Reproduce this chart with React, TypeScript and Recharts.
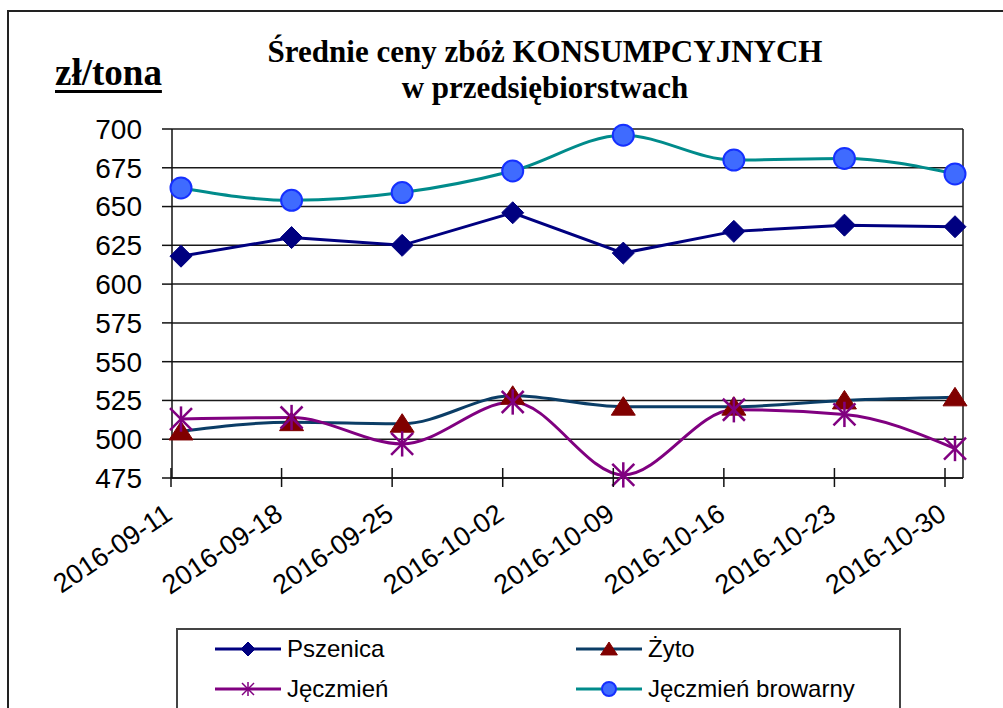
import React from 'react';
import { LineChart, Line, XAxis, YAxis, CartesianGrid, Legend } from 'recharts';

const categories = ['2016-09-11', '2016-09-18', '2016-09-25', '2016-10-02', '2016-10-09', '2016-10-16', '2016-10-23', '2016-10-30'];
const pszenica = [618, 630, 625, 646, 620, 634, 638, 637];
const zyto = [505, 511, 510, 528, 521, 521, 525, 527];
const jeczmien = [513, 514, 497, 524, 477, 519, 516, 494];
const browarny = [662, 654, 659, 673, 696, 680, 681, 671];
const yTicks = [475, 500, 525, 550, 575, 600, 625, 650, 675, 700];

const seriesNames = ['Pszenica', 'Żyto', 'Jęczmień', 'Jęczmień browarny'];

const data = categories.map((c, i) => ({
  date: c,
  pszenica: pszenica[i],
  zyto: zyto[i],
  jeczmien: jeczmien[i],
  browarny: browarny[i],
}));

const NAVY = '#000080';
const ZYTO_LINE = '#0b3d66';
const ZYTO_MARK = '#800000';
const PURPLE = '#800080';
const TEAL = '#008b8b';
const BLUE_FILL = '#3f6bff';
const BLUE_STROKE = '#1530ff';

const Diamond = ({ cx, cy, r }: any) => (
  <polygon points={`${cx},${cy - r} ${cx + r},${cy} ${cx},${cy + r} ${cx - r},${cy}`} fill={NAVY} stroke={NAVY} strokeWidth={1} />
);
const Tri = ({ cx, cy, r }: any) => (
  <polygon points={`${cx},${cy - r} ${cx + r * 1.2},${cy + r * 0.85} ${cx - r * 1.2},${cy + r * 0.85}`} fill={ZYTO_MARK} stroke={ZYTO_MARK} strokeWidth={1} />
);
const Star = ({ cx, cy, r, w }: any) => (
  <g stroke={PURPLE} strokeWidth={w} fill="none">
    <line x1={cx} y1={cy - r * 1.15} x2={cx} y2={cy + r * 1.15} />
    <line x1={cx - r} y1={cy - r} x2={cx + r} y2={cy + r} />
    <line x1={cx - r} y1={cy + r} x2={cx + r} y2={cy - r} />
  </g>
);
const Circ = ({ cx, cy, r }: any) => (
  <circle cx={cx} cy={cy} r={r} fill={BLUE_FILL} stroke={BLUE_STROKE} strokeWidth={2} />
);

const XTick = (props: any) => {
  const { x, y, payload } = props;
  const tx = x - 10;
  const lx = tx + 3;
  const ly = y + 40;
  return (
    <g>
      <line x1={tx} y1={y - 10} x2={tx} y2={y + 9} stroke="#111" strokeWidth={1.5} />
      <text
        x={lx}
        y={ly}
        textAnchor="end"
        transform={`rotate(-34, ${lx}, ${ly})`}
        fontFamily="'Liberation Sans', Arial, sans-serif"
        fontSize={27}
        fill="#000"
      >
        {payload.value}
      </text>
    </g>
  );
};

const legendIcons = [
  (cx: number, cy: number) => <Diamond cx={cx} cy={cy} r={7} />,
  (cx: number, cy: number) => <Tri cx={cx} cy={cy} r={7} />,
  (cx: number, cy: number) => <Star cx={cx} cy={cy} r={6} w={1.5} />,
  (cx: number, cy: number) => <Circ cx={cx} cy={cy} r={7} />,
];
const legendLineColors = [NAVY, ZYTO_LINE, PURPLE, TEAL];

const LegendContent = () => (
  <div style={{ position: 'relative', width: 725, height: 82, border: '2px solid #444', boxSizing: 'border-box', background: '#fff' }}>
    {seriesNames.map((name, i) => {
      const col = i % 2;
      const row = Math.floor(i / 2);
      const left = col === 0 ? 35 : 396;
      const top = row === 0 ? 1 : 41;
      return (
        <div key={name} style={{ position: 'absolute', left, top, height: 36, display: 'flex', alignItems: 'center' }}>
          <svg width={70} height={36} style={{ display: 'block' }}>
            <line x1={2} y1={18} x2={68} y2={18} stroke={legendLineColors[i]} strokeWidth={3} />
            {legendIcons[i](35, 18)}
          </svg>
          <span style={{ marginLeft: 4, fontFamily: "'Liberation Sans', Arial, sans-serif", fontSize: 24, color: '#000' }}>{name}</span>
        </div>
      );
    })}
  </div>
);

export default function App() {
  return (
    <div style={{ position: 'absolute', left: 0, top: 0, width: 1003, height: 708, background: '#fff', overflow: 'hidden' }}>
      <div style={{ position: 'absolute', left: 7, top: 10, width: 1010, height: 720, border: '2px solid #222', boxSizing: 'border-box' }} />
      <div
        style={{
          position: 'absolute', left: 245, top: 34, width: 600, textAlign: 'center',
          fontFamily: "'Liberation Serif', 'Times New Roman', serif", fontWeight: 'bold', fontSize: 31, lineHeight: '36px', color: '#000',
        }}
      >
        <div>Średnie ceny zbóż KONSUMPCYJNYCH</div>
        <div>w przedsiębiorstwach</div>
      </div>
      <div
        style={{
          position: 'absolute', left: 55, top: 55, fontFamily: "'Liberation Serif', 'Times New Roman', serif", fontWeight: 'bold',
          fontSize: 37, lineHeight: '36px', color: '#000', textDecoration: 'underline', textDecorationThickness: '3px', textUnderlineOffset: '5px',
        }}
      >
        zł/tona
      </div>
      <div style={{ position: 'absolute', left: 0, top: 0 }}>
        <LineChart width={1003} height={708} data={data} margin={{ top: 129, right: 40, left: 0, bottom: 110 }}>
          <CartesianGrid
            horizontal={true}
            vertical={true}
            stroke="#1a1a1a"
            strokeWidth={1.5}
            verticalCoordinatesGenerator={({ offset }: any) => [offset.left + offset.width]}
          />
          <XAxis
            dataKey="date"
            type="category"
            height={120}
            padding={{ left: 9, right: 8 }}
            tickSize={0}
            tickMargin={0}
            tickLine={false}
            axisLine={{ stroke: '#111', strokeWidth: 1.5 }}
            tick={<XTick />}
            interval={0}
          />
          <YAxis
            domain={[475, 700]}
            ticks={yTicks}
            width={172}
            tickSize={10}
            tickMargin={20}
            tickLine={{ stroke: '#111', strokeWidth: 1.5 }}
            axisLine={{ stroke: '#111', strokeWidth: 1.5 }}
            tick={{ fontFamily: "'Liberation Sans', Arial, sans-serif", fontSize: 28, fill: '#000' }}
            interval={0}
          />
          <Legend
            layout="horizontal"
            verticalAlign="middle"
            align="center"
            wrapperStyle={{ position: 'absolute', left: 176, top: 628, width: 725, height: 82 }}
            content={<LegendContent />}
          />
          <Line
            type="monotone"
            dataKey="zyto"
            name={seriesNames[1]}
            stroke={ZYTO_LINE}
            strokeWidth={3}
            isAnimationActive={false}
            dot={(p: any) => <Tri key={`z-${p.index}`} cx={p.cx} cy={p.cy} r={10} />}
            activeDot={false}
          />
          <Line
            type="monotone"
            dataKey="jeczmien"
            name={seriesNames[2]}
            stroke={PURPLE}
            strokeWidth={3}
            isAnimationActive={false}
            dot={(p: any) => <Star key={`j-${p.index}`} cx={p.cx} cy={p.cy} r={11} w={2.5} />}
            activeDot={false}
          />
          <Line
            type="linear"
            dataKey="pszenica"
            name={seriesNames[0]}
            stroke={NAVY}
            strokeWidth={3}
            isAnimationActive={false}
            dot={(p: any) => <Diamond key={`p-${p.index}`} cx={p.cx} cy={p.cy} r={11} />}
            activeDot={false}
          />
          <Line
            type="monotone"
            dataKey="browarny"
            name={seriesNames[3]}
            stroke={TEAL}
            strokeWidth={3}
            isAnimationActive={false}
            dot={(p: any) => <Circ key={`b-${p.index}`} cx={p.cx} cy={p.cy} r={10.5} />}
            activeDot={false}
          />
        </LineChart>
      </div>
    </div>
  );
}
